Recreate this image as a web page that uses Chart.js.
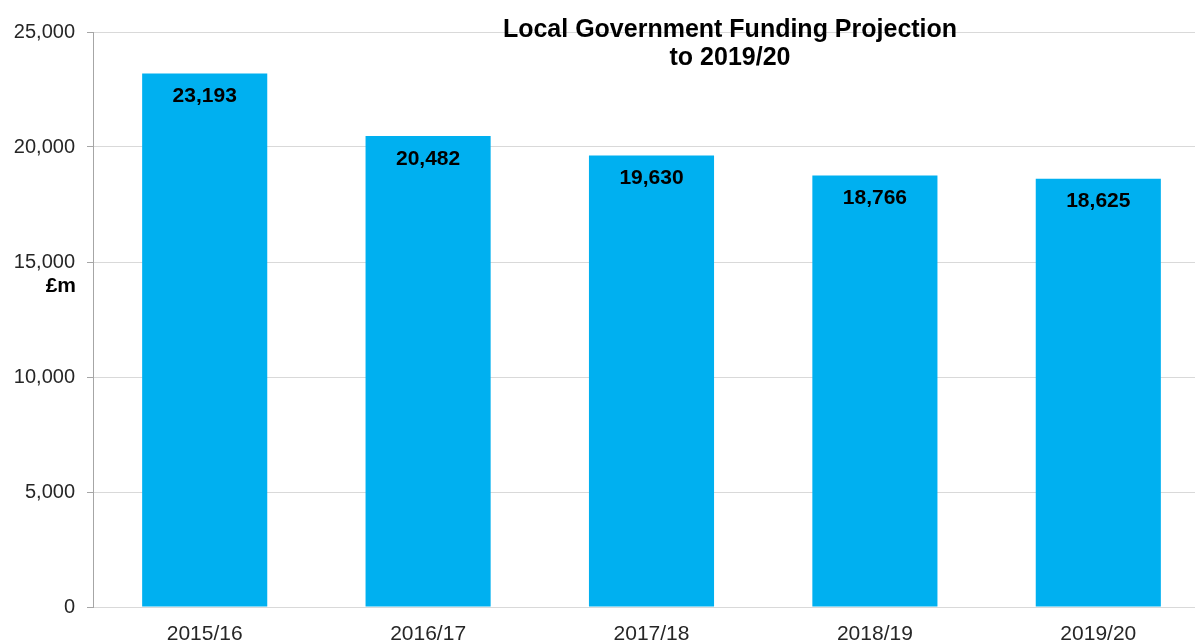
<!DOCTYPE html>
<html>
<head>
<meta charset="utf-8">
<script src="https://cdn.jsdelivr.net/npm/chart.js@4.4.0/dist/chart.umd.min.js"></script>
<style>
  html, body { margin: 0; padding: 0; background: #fff; overflow: hidden; }
  .chart { width: 1210px; height: 642px; position: relative; }
</style>
</head>
<body>
<div class="chart"><canvas id="funding"></canvas></div>
<script>
const years = ['2015/16', '2016/17', '2017/18', '2018/19', '2019/20'];
const funding = [23193, 20482, 19630, 18766, 18625];
const titleLines = ['Local Government Funding Projection', 'to 2019/20'];
const unitLabel = '£m';

const FONT = '"Liberation Sans", Arial, sans-serif';

// bar values, title and unit label drawn on top of the chart
const overlay = {
  id: 'overlay',
  afterDatasetsDraw(chart) {
    const ctx = chart.ctx;
    const meta = chart.getDatasetMeta(0);
    ctx.save();
    ctx.fillStyle = '#000';
    ctx.textAlign = 'center';
    ctx.textBaseline = 'middle';
    ctx.font = 'bold 21px ' + FONT;
    meta.data.forEach((bar, i) => {
      ctx.fillText(funding[i].toLocaleString('en-GB'), bar.x, bar.y + 23);
    });

    ctx.font = 'bold 25px ' + FONT;
    titleLines.forEach((t, i) => ctx.fillText(t, 730, 30 + i * 28));

    const y = chart.scales.y;
    ctx.textAlign = 'right';
    ctx.font = 'bold 21px ' + FONT;
    ctx.fillText(unitLabel, y.right - 17, y.getPixelForValue(13950));
    ctx.restore();
  }
};

new Chart(document.getElementById('funding').getContext('2d'), {
  type: 'bar',
  data: {
    labels: years,
    datasets: [{
      data: funding,
      backgroundColor: '#00B0F0',
      borderWidth: 0,
      barPercentage: 0.56,
      categoryPercentage: 1
    }]
  },
  options: {
    responsive: true,
    maintainAspectRatio: false,
    animation: false,
    layout: { padding: { top: 32, right: 0, bottom: 0, left: 0 } },
    scales: {
      x: {
        afterFit: s => { s.height = 35; },
        grid: { display: false, drawTicks: false },
        border: { color: '#d9d9d9', width: 1 },
        ticks: { color: '#262626', padding: 15, font: { family: FONT, size: 21 } }
      },
      y: {
        min: 0,
        max: 25000,
        afterFit: s => { s.width = 93; },
        grid: { color: '#d9d9d9', tickColor: '#a6a6a6', tickLength: 6 },
        border: { color: '#a6a6a6', width: 1 },
        ticks: {
          stepSize: 5000,
          color: '#262626',
          padding: 12,
          font: { family: FONT, size: 20 },
          callback: v => v.toLocaleString('en-GB')
        }
      }
    },
    plugins: {
      legend: { display: false },
      tooltip: { enabled: false },
      title: { display: false }
    }
  },
  plugins: [overlay]
});
</script>
</body>
</html>
